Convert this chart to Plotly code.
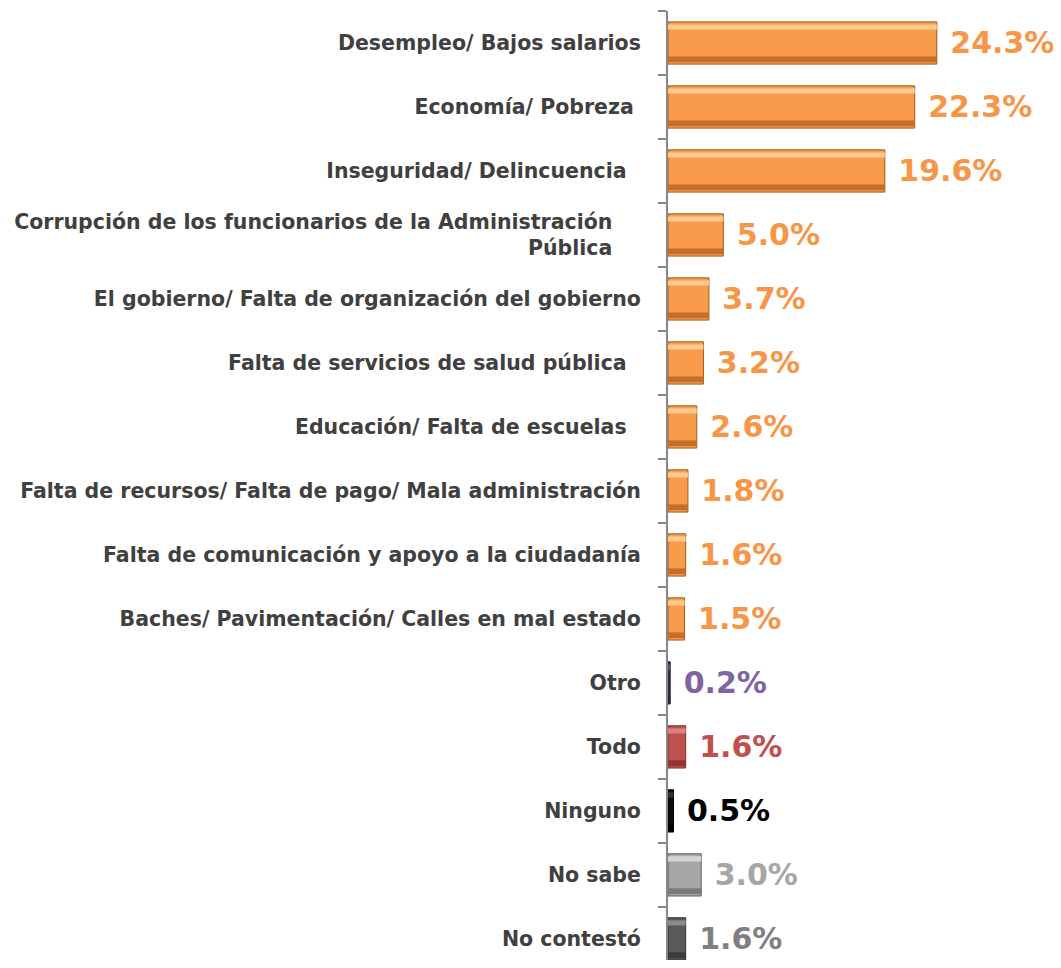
import plotly.graph_objects as go

categories = [
    "Desempleo/ Bajos salarios",
    "Economía/ Pobreza\u00a0",
    "Inseguridad/ Delincuencia\u00a0\u00a0",
    "Corrupción de los funcionarios de la Administración\u00a0\u00a0\u00a0\u00a0<br>Pública\u00a0\u00a0\u00a0\u00a0",
    "El gobierno/ Falta de organización del gobierno",
    "Falta de servicios de salud pública\u00a0\u00a0",
    "Educación/ Falta de escuelas\u00a0\u00a0",
    "Falta de recursos/ Falta de pago/ Mala administración",
    "Falta de comunicación y apoyo a la ciudadanía",
    "Baches/ Pavimentación/ Calles en mal estado",
    "Otro",
    "Todo",
    "Ninguno",
    "No sabe",
    "No contestó",
]
values = [24.3, 22.3, 19.6, 5.0, 3.7, 3.2, 2.6, 1.8, 1.6, 1.5, 0.2, 1.6, 0.5, 3.0, 1.6]

ORANGE = "#F89C4C"
bar_colors = [ORANGE] * 10 + ["#3F3151", "#C0504D", "#0D0D0D", "#A6A6A6", "#595959"]
edge_colors = ["#9C5A1E"] * 10 + ["#2A2036", "#7A2E2C", "#000000", "#5F5F5F", "#303030"]
light_colors = ["#FCC98F"] * 10 + ["#5E4C75", "#D98481", "#333333", "#D4D4D4", "#8A8A8A"]
dark_colors = ["#C46E26"] * 10 + ["#2A2036", "#8E3432", "#000000", "#7A7A7A", "#3A3A3A"]
text_colors = ["#F79646"] * 10 + ["#8064A2", "#C0504D", "#000000", "#A6A6A6", "#7F7F7F"]
labels = [f"{v:.1f}%" for v in values]

fig = go.Figure()
fig.add_trace(go.Bar(
    y=categories, x=values, orientation="h",
    marker=dict(color=bar_colors, line=dict(color=edge_colors, width=1)),
    width=0.66,
    text=labels, texttemplate="\u00a0%{text}", textposition="outside",
    constraintext="none", cliponaxis=False,
    textfont=dict(family="DejaVu Sans", size=30, color=text_colors, weight="bold"),
    hoverinfo="skip",
))
# bevel highlight (top) and shadow (bottom)
fig.add_trace(go.Bar(
    y=categories, x=values, orientation="h",
    marker=dict(color=light_colors, line=dict(width=0)),
    width=0.08, offset=-0.29, hoverinfo="skip",
))
fig.add_trace(go.Bar(
    y=categories, x=values, orientation="h",
    marker=dict(color=dark_colors, line=dict(width=0)),
    width=0.09, offset=0.21, hoverinfo="skip",
))

fig.update_layout(
    width=1045, height=952,
    barmode="overlay",
    showlegend=False,
    plot_bgcolor="white", paper_bgcolor="white",
    margin=dict(l=660, r=0, t=3, b=0),
    xaxis=dict(range=[0, 34.8], visible=False, fixedrange=True),
    yaxis=dict(
        range=[14.33, -0.5], type="category",
        showline=True, linecolor="#868686", linewidth=2,
        ticks="outside", tickson="boundaries", ticklen=8, tickcolor="#868686", tickwidth=2,
        ticklabelstandoff=21,
        tickfont=dict(family="DejaVu Sans", size=20.5, color="#404040", weight="bold"),
        showgrid=False,
    ),
)
fig.write_html("out.html")
